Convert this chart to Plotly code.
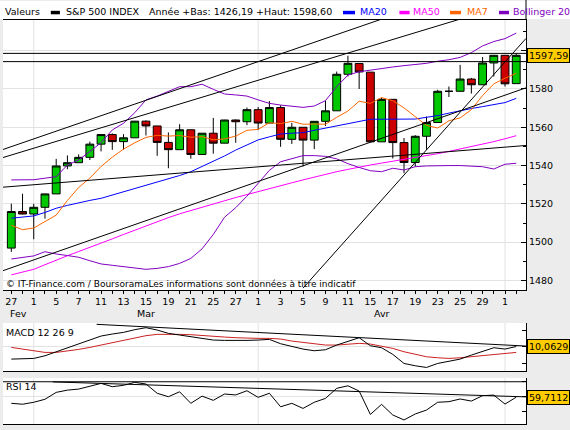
import plotly.graph_objects as go

# sessions from Feb 27 to May 2 (day of month)
days = [27, 28, 1, 4, 5, 6, 7, 8, 11, 12, 13, 14, 15, 18, 19, 20, 21, 22, 25, 26, 27, 28,
        1, 2, 3, 4, 5, 8, 9, 10, 11, 12, 15, 16, 17, 18, 19, 22, 23, 24, 25, 26, 29, 30, 1, 2]
months = ["Fev", "Mar", "Avr"]
month_starts = [2, 22, 44]

opens = [1496.9, 1516.0, 1514.7, 1518.2, 1525.2, 1539.8, 1541.5, 1544.3, 1551.2, 1556.2,
         1552.5, 1554.5, 1563.2, 1560.7, 1552.1, 1548.3, 1558.7, 1545.8, 1556.9, 1551.7,
         1563.8, 1562.9, 1569.2, 1562.2, 1570.3, 1553.7, 1560.0, 1553.3, 1563.1, 1568.6,
         1587.7, 1593.3, 1588.8, 1552.4, 1574.6, 1552.0, 1541.6, 1555.3, 1562.5, 1578.8,
         1578.8, 1585.2, 1582.2, 1593.6, 1597.6, 1582.8]
highs = [1520.1, 1525.3, 1520.0, 1525.3, 1543.5, 1545.3, 1545.8, 1552.5, 1556.3, 1556.8,
         1556.4, 1563.3, 1563.6, 1560.7, 1557.3, 1561.6, 1558.7, 1557.0, 1564.9, 1563.9,
         1564.1, 1570.3, 1570.6, 1573.7, 1571.5, 1562.3, 1560.0, 1563.1, 1573.9, 1589.1,
         1597.4, 1593.3, 1588.8, 1575.4, 1574.6, 1554.4, 1555.9, 1565.6, 1579.6, 1581.3,
         1592.6, 1585.8, 1596.7, 1597.6, 1597.6, 1598.6]
lows = [1494.9, 1514.5, 1501.5, 1512.3, 1525.2, 1538.1, 1541.5, 1542.9, 1547.4, 1548.2,
        1548.3, 1554.5, 1555.7, 1545.1, 1538.6, 1548.3, 1543.6, 1545.8, 1546.2, 1551.7,
        1551.9, 1561.1, 1558.5, 1562.2, 1549.8, 1551.3, 1539.5, 1548.6, 1560.7, 1568.6,
        1586.5, 1580.0, 1552.3, 1552.4, 1543.7, 1536.0, 1539.4, 1548.2, 1562.5, 1575.8,
        1578.9, 1577.6, 1582.3, 1586.5, 1581.3, 1582.8]
closes = [1516.0, 1514.7, 1518.2, 1525.2, 1539.8, 1541.5, 1544.3, 1551.2, 1556.2, 1552.5,
          1554.5, 1563.2, 1560.7, 1552.1, 1548.3, 1558.7, 1545.8, 1556.9, 1551.7, 1563.8,
          1562.9, 1569.2, 1562.2, 1570.3, 1553.7, 1560.0, 1553.3, 1563.1, 1568.6, 1587.7,
          1593.4, 1588.9, 1552.4, 1574.6, 1552.0, 1541.6, 1555.3, 1562.5, 1578.8, 1578.8,
          1585.2, 1582.2, 1593.6, 1597.6, 1582.7, 1597.6]

ma7 = [1508.8, 1506.5, 1507.4, 1510.6, 1514.1, 1521.8, 1528.5, 1533.5, 1539.5, 1544.4,
       1548.6, 1551.9, 1554.7, 1555.8, 1555.4, 1555.7, 1554.8, 1555.1, 1553.5, 1553.9,
       1555.4, 1558.4, 1558.9, 1562.4, 1561.9, 1563.1, 1561.6, 1561.7, 1561.6, 1565.2,
       1568.5, 1573.6, 1572.5, 1575.5, 1573.9, 1570.1, 1565.4, 1561.0, 1559.6, 1563.4,
       1564.9, 1569.2, 1576.6, 1582.7, 1585.6, 1588.2]
ma20 = [1512.5, 1513.0, 1513.7, 1515.5, 1517.7, 1519.2, 1520.6, 1521.8, 1522.9, 1524.6,
        1526.4, 1528.0, 1529.7, 1531.2, 1532.8, 1534.8, 1536.8, 1539.5, 1542.0, 1545.0,
        1548.1, 1550.8, 1553.4, 1555.0, 1556.5, 1556.9, 1557.2, 1558.4, 1559.5, 1560.6,
        1561.7, 1563.0, 1564.2, 1564.2, 1564.2, 1564.2, 1564.3, 1565.2, 1566.1, 1567.4,
        1568.7, 1569.8, 1570.8, 1571.9, 1572.9, 1575.1]
ma50 = [1482.9, 1484.3, 1485.8, 1488.2, 1490.7, 1492.9, 1495.1, 1497.2, 1499.4, 1501.7,
        1504.0, 1506.3, 1508.6, 1510.7, 1512.8, 1514.8, 1516.6, 1518.3, 1519.9, 1521.6,
        1523.3, 1524.9, 1526.3, 1527.9, 1529.4, 1531.0, 1532.5, 1534.0, 1535.5, 1536.8,
        1538.0, 1539.3, 1540.3, 1541.3, 1542.2, 1543.1, 1544.0, 1545.0, 1546.2, 1547.4,
        1548.6, 1549.9, 1551.2, 1552.5, 1554.0, 1555.6]
boll_up = [1532.5, 1532.5, 1532.6, 1533.4, 1534.2, 1540.3, 1542.9, 1547.3, 1552.0, 1558.6,
           1562.1, 1567.6, 1574.3, 1576.3, 1578.6, 1581.2, 1581.2, 1582.5, 1579.8, 1577.4,
           1576.9, 1576.3, 1574.3, 1572.5, 1571.6, 1571.1, 1570.4, 1571.1, 1573.9, 1581.2,
           1587.3, 1589.0, 1589.9, 1590.8, 1591.5, 1592.2, 1592.8, 1593.4, 1594.5, 1595.3,
           1596.5, 1599.0, 1602.5, 1604.8, 1606.3, 1609.2]
boll_low = [1491.2, 1492.0, 1492.8, 1495.0, 1493.8, 1493.0, 1492.1, 1490.3, 1488.6, 1487.9,
            1487.2, 1486.2, 1485.8, 1486.3, 1487.2, 1488.9, 1491.5, 1496.5, 1504.0, 1513.0,
            1518.0, 1524.0, 1531.0, 1537.5, 1542.0, 1543.8, 1545.2, 1545.2, 1544.8, 1543.5,
            1541.0, 1539.0, 1537.3, 1536.8, 1538.6, 1537.7, 1539.4, 1539.8, 1540.0, 1540.0,
            1540.0, 1539.8, 1539.4, 1538.2, 1540.7, 1541.2]

macd = [6.3, 6.3, 6.5, 7.3, 8.5, 9.7, 10.7, 12.0, 13.2, 13.8,
        14.3, 15.1, 15.7, 15.0, 14.0, 13.5, 13.0, 12.5, 12.0, 11.9,
        11.8, 11.9, 12.0, 12.2, 10.9, 10.0, 9.3, 8.8, 9.1, 10.5,
        11.7, 12.7, 10.3, 9.7, 7.7, 5.0, 4.3, 3.8, 5.0, 5.7,
        6.3, 7.5, 8.7, 9.7, 9.3, 10.0629]
macd_signal = [9.8, 9.3, 8.8, 8.3, 8.3, 8.7, 9.2, 9.8, 10.5, 11.3,
               12.0, 12.7, 13.3, 13.7, 13.8, 13.7, 13.6, 13.3, 13.2, 12.9,
               12.7, 12.5, 12.5, 12.5, 12.3, 11.7, 11.3, 10.9, 10.5, 10.5,
               10.8, 11.0, 10.8, 10.2, 9.5, 8.5, 7.7, 7.0, 6.7, 6.5,
               6.7, 7.0, 7.5, 7.8, 8.0, 8.3]
rsi = [55.6, 55.0, 56.3, 58.3, 62.9, 64.4, 65.1, 67.2, 68.9, 66.7,
       67.6, 69.6, 68.5, 62.3, 60.0, 63.3, 55.6, 60.4, 57.6, 61.8,
       61.2, 64.0, 59.6, 62.3, 53.3, 55.6, 52.2, 56.3, 58.9, 65.6,
       67.3, 63.8, 48.2, 54.9, 47.8, 44.5, 48.5, 51.1, 56.3, 56.7,
       58.5, 57.1, 60.7, 61.1, 55.1, 59.7112]

# hand drawn trend lines (session index, value)
trend_x0 = [-0.74, -0.74, -0.74, -0.74, 26.0]
trend_y0 = [1548.4, 1544.2, 1485.1, 1528.7, 1476.0]
trend_x1 = [33.5, 40.5, 45.87, 45.87, 45.87]
trend_y1 = [1617.5, 1617.4, 1580.6, 1550.5, 1606.4]
price_levels = [1598.6, 1594.3]
macd_trend = [7.6, 16.7, 45.9, 10.2]
rsi_trend = [3.7, 69.9, 45.9, 59.9]
rsi_level = 70

price_ticks = [1480, 1500, 1520, 1540, 1560, 1580, 1600]
year_low, year_high = 1426.19, 1598.60
last_close, last_macd, last_rsi = 1597.59, 10.0629, 59.7112

W, H = 570, 430
L, R = 3, 44
FONT = "DejaVu Sans"
GRID = "#e2e2e2"


def px(x):
    return (x - L) / (W - L - R)


def py(y):
    return 1 - y / H


def fr(v, n):
    return f"{v:.{n}f}".replace(".", ",")


idx = list(range(len(days)))
xrange = [-0.74, 45.87]

fig = go.Figure()

fig.add_trace(go.Candlestick(
    x=idx, open=opens, high=highs, low=lows, close=closes,
    increasing=dict(fillcolor="#00c800", line=dict(color="black", width=1)),
    decreasing=dict(fillcolor="#cc0000", line=dict(color="black", width=1)),
    whiskerwidth=0, hoverinfo="skip", showlegend=False, xaxis="x", yaxis="y"))

for vals, col in [(ma50, "#ff00ff"), (ma20, "#0000ff"), (ma7, "#ff6600"),
                  (boll_up, "#8000c0"), (boll_low, "#8000c0")]:
    fig.add_trace(go.Scatter(x=idx, y=vals, mode="lines", line=dict(color=col, width=1),
                             hoverinfo="skip", showlegend=False, xaxis="x", yaxis="y"))

for x0, y0, x1, y1 in zip(trend_x0, trend_y0, trend_x1, trend_y1):
    fig.add_trace(go.Scatter(x=[x0, x1], y=[y0, y1], mode="lines",
                             line=dict(color="black", width=1),
                             hoverinfo="skip", showlegend=False, xaxis="x", yaxis="y"))
for lv in price_levels:
    fig.add_trace(go.Scatter(x=xrange, y=[lv, lv], mode="lines",
                             line=dict(color="black", width=1),
                             hoverinfo="skip", showlegend=False, xaxis="x", yaxis="y"))

# MACD
fig.add_trace(go.Scatter(x=idx, y=macd_signal, mode="lines", line=dict(color="#cc2222", width=1),
                         hoverinfo="skip", showlegend=False, xaxis="x2", yaxis="y2"))
fig.add_trace(go.Scatter(x=idx, y=macd, mode="lines", line=dict(color="black", width=1),
                         hoverinfo="skip", showlegend=False, xaxis="x2", yaxis="y2"))
fig.add_trace(go.Scatter(x=[macd_trend[0], macd_trend[2]], y=[macd_trend[1], macd_trend[3]],
                         mode="lines", line=dict(color="black", width=1),
                         hoverinfo="skip", showlegend=False, xaxis="x2", yaxis="y2"))

# RSI
fig.add_trace(go.Scatter(x=xrange, y=[rsi_level, rsi_level], mode="lines",
                         line=dict(color="black", width=1),
                         hoverinfo="skip", showlegend=False, xaxis="x3", yaxis="y3"))
fig.add_trace(go.Scatter(x=[rsi_trend[0], rsi_trend[2]], y=[rsi_trend[1], rsi_trend[3]],
                         mode="lines", line=dict(color="black", width=1),
                         hoverinfo="skip", showlegend=False, xaxis="x3", yaxis="y3"))
fig.add_trace(go.Scatter(x=idx, y=rsi, mode="lines", line=dict(color="black", width=1),
                         hoverinfo="skip", showlegend=False, xaxis="x3", yaxis="y3"))

ticktext = [str(d) if i % 2 == 0 else "" for i, d in enumerate(days)]
xcommon = dict(range=xrange, showgrid=False, zeroline=False, showline=True,
               linecolor="black", linewidth=1, fixedrange=True)

shapes = []
# header strip
shapes.append(dict(type="rect", xref="paper", yref="paper", x0=px(0), x1=px(570),
                   y0=py(19), y1=py(1), fillcolor="white", line=dict(width=0), layer="below"))
shapes.append(dict(type="line", xref="paper", yref="paper", x0=1, x1=1, y0=py(19.5), y1=py(0),
                   line=dict(color="black", width=1)))
for xr, yr in [("x", "y domain"), ("x2", "y2 domain"), ("x3", "y3 domain")]:
    for m in month_starts:
        shapes.append(dict(type="line", xref=xr, yref=yr, x0=m, x1=m, y0=0, y1=1,
                           line=dict(color=GRID, width=1), layer="below"))

annotations = []
header = [
    (3.6, "Valeurs", "black", None),
    (65.4, "S&P 500 INDEX", "black", (50.8, 59.9)),
    (148, f"Année +Bas: {fr(year_low, 2)} +Haut: {fr(year_high, 2)}", "black", None),
    (358.7, "MA20", "#0000ff", (343, 355)),
    (412, "MA50", "#ff00ff", (399.4, 409.6)),
    (465.5, "MA7", "#ff6600", (450, 461)),
    (512, "Bollinger 20", "#8000c0", (499, 509)),
]
for x, txt, col, mark in header:
    annotations.append(dict(text=txt, xref="paper", yref="paper", x=px(x), y=py(11.5),
                            xanchor="left", yanchor="middle", showarrow=False, borderpad=0,
                            font=dict(family=FONT, size=9.5, color=col)))
    if mark:
        shapes.append(dict(type="rect", xref="paper", yref="paper", x0=px(mark[0]), x1=px(mark[1]),
                           y0=py(14.3), y1=py(10.8), fillcolor=col, line=dict(width=0)))

bounds = [xrange[0]] + month_starts
for i, mname in enumerate(months):
    annotations.append(dict(text=mname, xref="x", yref="paper", x=(bounds[i] + bounds[i + 1]) / 2,
                            y=py(313), xanchor="center", yanchor="middle", showarrow=False,
                            font=dict(family=FONT, size=9.5, color="black")))

annotations.append(dict(text="© IT-Finance.com / BoursoramaLes informations sont données à titre indicatif",
                        xref="paper", yref="paper", x=px(5), y=py(283.5), xanchor="left",
                        yanchor="middle", showarrow=False, borderpad=0,
                        font=dict(family=FONT, size=9, color="black")))
annotations.append(dict(text="MACD 12 26 9", xref="paper", yref="paper", x=px(4.5), y=py(332),
                        xanchor="left", yanchor="middle", showarrow=False, borderpad=0,
                        font=dict(family=FONT, size=9.5, color="black")))
annotations.append(dict(text="RSI 14", xref="paper", yref="paper", x=px(4.5), y=py(386),
                        xanchor="left", yanchor="middle", showarrow=False, borderpad=0,
                        font=dict(family=FONT, size=9.5, color="black")))

for val, yref, n in [(last_close, "y", 2), (last_macd, "y2", 4), (last_rsi, "y3", 4)]:
    annotations.append(dict(text=fr(val, n), xref="paper", yref=yref, x=1, y=val,
                            xanchor="left", yanchor="middle", xshift=1, showarrow=False,
                            bgcolor="#ffcc00", bordercolor="black", borderwidth=1, borderpad=1,
                            font=dict(family=FONT, size=9.5, color="black")))

# the 1600 label sits under the last-price box, so it is left blank
price_ticktext = [str(v) if v < 1600 else "" for v in price_ticks]

fig.update_layout(
    width=W, height=H, margin=dict(l=L, r=R, t=0, b=0),
    paper_bgcolor="#ececec", plot_bgcolor="white",
    font=dict(family=FONT, size=9.5, color="black"),
    showlegend=False, boxgap=0.3, boxgroupgap=0, hovermode=False,
    xaxis=dict(**xcommon, anchor="y", mirror=True, tickmode="array", tickvals=idx,
               ticktext=ticktext, ticks="outside", ticklen=3, tickcolor="black",
               rangeslider=dict(visible=False), tickfont=dict(family=FONT, size=9.5)),
    xaxis2=dict(**xcommon, anchor="y2", matches="x", showticklabels=False, ticks=""),
    xaxis3=dict(**xcommon, anchor="y3", matches="x", showticklabels=False, ticks=""),
    yaxis=dict(domain=[py(290), py(19.5)], range=[1475.0, 1616.3], side="right",
               tickmode="array", tickvals=price_ticks, ticktext=price_ticktext,
               ticks="inside", ticklen=5, tickcolor="black",
               minor=dict(tickmode="array", tickvals=[v + 10 for v in price_ticks],
                          ticks="inside", ticklen=3, tickcolor="black"),
               showgrid=True, gridcolor=GRID, zeroline=False, showline=True,
               linecolor="black", fixedrange=True, anchor="x"),
    yaxis2=dict(domain=[py(371), py(323)], range=[2.74, 17.1], side="right",
                tickmode="array", tickvals=[10], ticks="inside", ticklen=4, tickcolor="black",
                minor=dict(tickmode="array", tickvals=[5, 15], ticks="inside", ticklen=4,
                           tickcolor="black"),
                showticklabels=False, showgrid=True, gridcolor=GRID, zeroline=False,
                showline=True, linecolor="black", fixedrange=True, anchor="x2"),
    yaxis3=dict(domain=[py(424), py(378)], range=[41.8, 72.5], side="right",
                tickmode="array", tickvals=[60], ticks="inside", ticklen=4, tickcolor="black",
                minor=dict(tickmode="array", tickvals=[50, 70], ticks="inside", ticklen=4,
                           tickcolor="black"),
                showticklabels=False, showgrid=True, gridcolor=GRID, zeroline=False,
                showline=True, linecolor="black", fixedrange=True, anchor="x3"),
    shapes=shapes, annotations=annotations,
)

# the page's default body margin would push the chart off the 570x430 window
fig.write_html("out.html", config={"displayModeBar": False},
               post_script="document.body.style.margin='0';document.body.style.overflow='hidden';")
